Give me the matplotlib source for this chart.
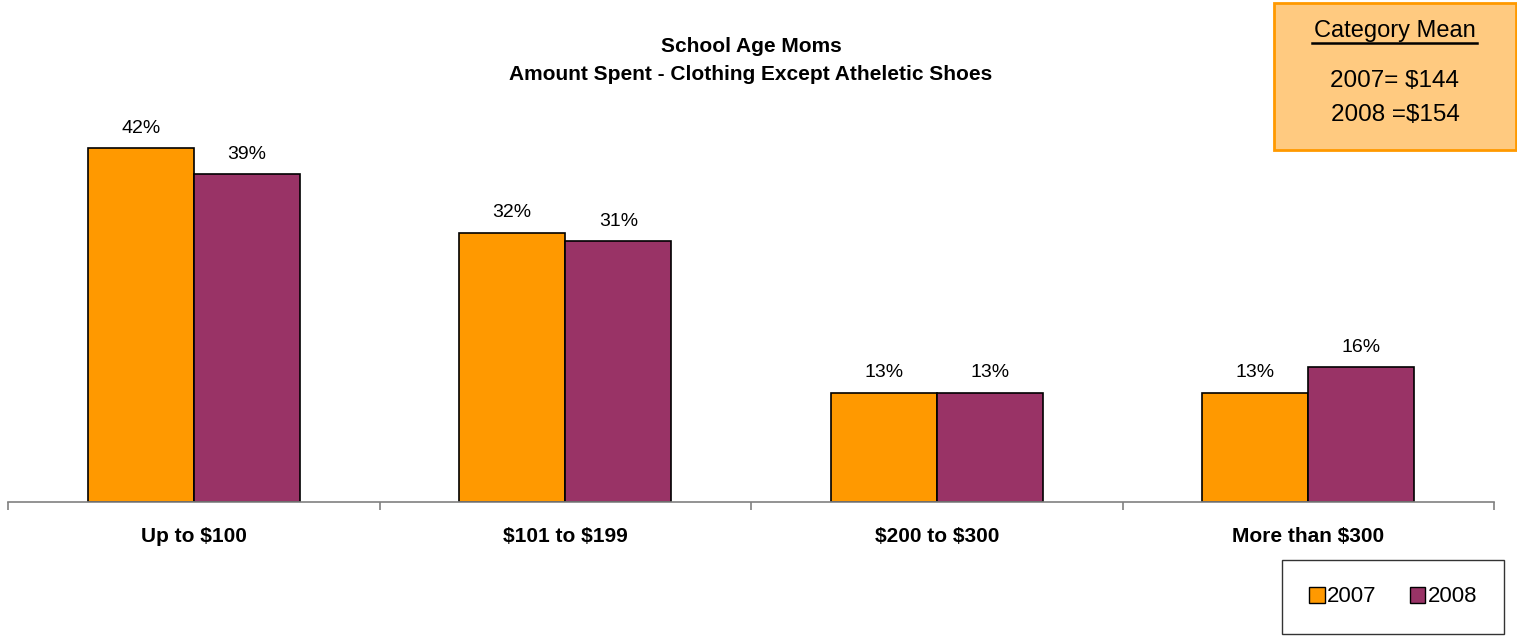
import matplotlib
matplotlib.use("Agg")
import matplotlib.pyplot as plt
from matplotlib.patches import Rectangle, Patch
from matplotlib.lines import Line2D
import numpy as np

plt.rcParams['font.family'] = ['Liberation Sans', 'DejaVu Sans']
plt.rcParams['text.parse_math'] = False

categories = ["Up to $100", "$101 to $199", "$200 to $300", "More than $300"]
series_names = ["2007", "2008"]
values_2007 = [42, 32, 13, 13]
values_2008 = [39, 31, 13, 16]
colors = ["#FF9900", "#993366"]
title_lines = ["School Age Moms", "Amount Spent - Clothing Except Atheletic Shoes"]
mean_title = "Category Mean"
mean_lines = ["2007= $144", "2008 =$154"]

W, H = 1517, 637
fig = plt.figure(figsize=(W / 100, H / 100), dpi=100)
ax = fig.add_axes([8 / W, 1 - 502 / H, (1494 - 8) / W, (502 - 100) / H])

x = np.arange(len(categories))
bw = 0.286
b1 = ax.bar(x - bw / 2, values_2007, bw, color=colors[0], edgecolor="black", linewidth=1.2, label=series_names[0])
b2 = ax.bar(x + bw / 2, values_2008, bw, color=colors[1], edgecolor="black", linewidth=1.2, label=series_names[1])

for bars, vals in ((b1, values_2007), (b2, values_2008)):
    for r, v in zip(bars, vals):
        ax.annotate(f"{v}%", (r.get_x() + r.get_width() / 2, r.get_height()),
                    xytext=(0, 8), textcoords="offset points", ha="center", va="bottom",
                    fontsize=14)

ax.set_xlim(-0.5, len(categories) - 0.5)
ax.set_ylim(0, (502 - 100) / 8.42)
for s in ("top", "right", "left"):
    ax.spines[s].set_visible(False)
ax.spines["bottom"].set_color("#808080")
ax.spines["bottom"].set_linewidth(1.2)
ax.set_yticks([])
ax.set_xticks(np.arange(-0.5, len(categories), 1.0))
ax.set_xticklabels([])
ax.tick_params(axis="x", length=6, width=1.2, color="#808080", direction="out")
ax.set_xticks(x, minor=True)
ax.set_xticklabels(categories, minor=True, fontsize=15, fontweight="bold")
ax.tick_params(axis="x", which="minor", length=0, pad=18)

fig.text(751 / W, 1 - 46 / H, title_lines[0], ha="center", va="center", fontsize=15, fontweight="bold")
fig.text(751 / W, 1 - 75 / H, title_lines[1], ha="center", va="center", fontsize=15, fontweight="bold")

# Category mean box
box = Rectangle((1274 / W, 1 - 150 / H), (1516 - 1274) / W, (150 - 3) / H, transform=fig.transFigure,
                facecolor="#FFCA80", edgecolor="#FF9900", linewidth=2, zorder=1)
fig.add_artist(box)
fig.text(1395 / W, 1 - 31 / H, mean_title, ha="center", va="center", fontsize=17, zorder=2)
fig.add_artist(Line2D([1312 / W, 1477 / W], [1 - 43 / H, 1 - 43 / H], transform=fig.transFigure,
                      color="black", linewidth=1.8, zorder=2))
fig.text(1395 / W, 1 - 81 / H, mean_lines[0], ha="center", va="center", fontsize=17.5, zorder=2)
fig.text(1395 / W, 1 - 115 / H, mean_lines[1], ha="center", va="center", fontsize=17.5, zorder=2)

handles = [Patch(facecolor=colors[0], edgecolor="black"), Patch(facecolor=colors[1], edgecolor="black")]
leg = fig.legend(handles, series_names, loc="center", bbox_to_anchor=(1393 / W, 1 - 597 / H),
                 ncol=2, fontsize=16, frameon=True, fancybox=False, edgecolor="black",
                 handlelength=0.7, handleheight=0.7, handletextpad=0.1, columnspacing=1.5,
                 borderpad=1.2, borderaxespad=0)
leg.get_frame().set_linewidth(1)

fig.savefig("out.png", dpi=100)
